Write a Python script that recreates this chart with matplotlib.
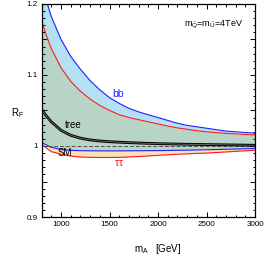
import numpy as np
import matplotlib
matplotlib.use('Agg')
import matplotlib.pyplot as plt
from matplotlib.ticker import MultipleLocator, FuncFormatter

plt.rcParams['font.family'] = ['Liberation Sans', 'DejaVu Sans']
plt.rcParams['mathtext.fontset'] = 'custom'
plt.rcParams['mathtext.rm'] = 'Liberation Sans'
plt.rcParams['mathtext.it'] = 'Liberation Sans'

# data
mA = [800, 850, 900, 1000, 1100, 1200, 1300, 1400, 1500, 1600, 1700, 1800,
      1900, 2000, 2100, 2200, 2300, 2400, 2500, 2600, 2700, 2800, 2900, 3000]
bb_up = [1.230, 1.204, 1.182, 1.150, 1.126, 1.108, 1.092, 1.079, 1.068, 1.060, 1.053, 1.048,
         1.044, 1.040, 1.036, 1.032, 1.029, 1.027, 1.025, 1.023, 1.021, 1.020, 1.019, 1.018]
tt_up = [1.176, 1.155, 1.137, 1.110, 1.091, 1.077, 1.066, 1.057, 1.050, 1.044, 1.040, 1.037,
         1.034, 1.031, 1.028, 1.0255, 1.0235, 1.0215, 1.020, 1.0188, 1.0178, 1.017, 1.0162, 1.0155]
bb_lo = [1.0046, 1.0015, 0.998, 0.995, 0.9938, 0.9934, 0.9932, 0.9931, 0.9931, 0.9931, 0.9932, 0.9933,
         0.9934, 0.9935, 0.9937, 0.9939, 0.9941, 0.9944, 0.9947, 0.9950, 0.9954, 0.9957, 0.9961, 0.9965]
tt_lo = [1.0024, 0.997, 0.992, 0.9885, 0.9858, 0.9845, 0.984, 0.9838, 0.9838, 0.984, 0.9845, 0.9852,
         0.986, 0.9868, 0.9876, 0.9884, 0.989, 0.9896, 0.990, 0.9908, 0.9916, 0.9925, 0.9932, 0.994]
tree = [1.051, 1.042, 1.034, 1.022, 1.015, 1.011, 1.0085, 1.007, 1.006, 1.0053, 1.0047, 1.0042,
        1.0037, 1.0033, 1.003, 1.0027, 1.0024, 1.0022, 1.002, 1.0018, 1.0016, 1.0014, 1.0012, 1.001]

fig = plt.figure(figsize=(2.67, 2.59), dpi=100)
ax = fig.add_axes([0.156, 0.162, 0.799, 0.823])

ax.fill_between(mA, tt_up, bb_up, color='#b3e0f2', lw=0)
ax.fill_between(mA, bb_lo, tt_up, color='#b7d4c6', lw=0)
ax.fill_between(mA, tt_lo, bb_lo, color='#fde0b4', lw=0)

ax.plot(mA, bb_up, color='#2020ff', lw=0.8)
ax.plot(mA, tt_up, color='#ff1a1a', lw=0.8)
ax.plot(mA, bb_lo, color='#2020ff', lw=0.8)
ax.plot(mA, tt_lo, color='#ff1a1a', lw=0.8)
ax.axhline(1.0, color='#505050', lw=0.7, dashes=(4, 2))
ax.plot(mA, tree, color='black', lw=2.0)
ax.plot(mA, tree, color='#707070', lw=0.6)

ax.text(1590, 1.073, 'bb', color='#2020ff', fontsize=7.5, ha='center', va='center')
ax.text(1130, 1.030, 'tree', color='black', fontsize=7, ha='center', va='center')
ax.text(1036, 0.990, 'SM', color='black', fontsize=7, ha='center', va='center')
ax.text(1600, 0.976, r'$\tau\tau$', color='#ff1a1a', fontsize=7.5, ha='center', va='center')
ax.text(2880, 1.170, r'm$_{\tilde{\rm Q}}$=m$_{\tilde{\rm U}}$=4TeV', fontsize=6.5, ha='right', va='center')

ax.set_xlim(800, 3000)
ax.set_ylim(0.9, 1.2)
ax.xaxis.set_major_locator(MultipleLocator(500))
ax.xaxis.set_minor_locator(MultipleLocator(100))
ax.yaxis.set_major_locator(MultipleLocator(0.05))
ax.yaxis.set_minor_locator(MultipleLocator(0.01))

def yfmt(v, pos):
    k = round(v * 100)
    if k % 10 != 0:
        return ''
    return '1' if k == 100 else '%g' % (k / 100)

ax.yaxis.set_major_formatter(FuncFormatter(yfmt))
ax.tick_params(which='both', direction='in', top=True, right=True, labelsize=5.8, width=0.7)
ax.tick_params(which='major', length=3.5, pad=3)
ax.tick_params(which='minor', length=1.8)
for s in ax.spines.values():
    s.set_linewidth(0.9)

fig.text(17 / 267, 1 - 113 / 259, r'R$_{\rm F}$', fontsize=7, ha='center', va='center')
fig.text(158 / 267, 1 - 249 / 259, r'm$_{\rm A}$   [GeV]', fontsize=7, ha='center', va='center')

fig.savefig('out.png', dpi=100)
